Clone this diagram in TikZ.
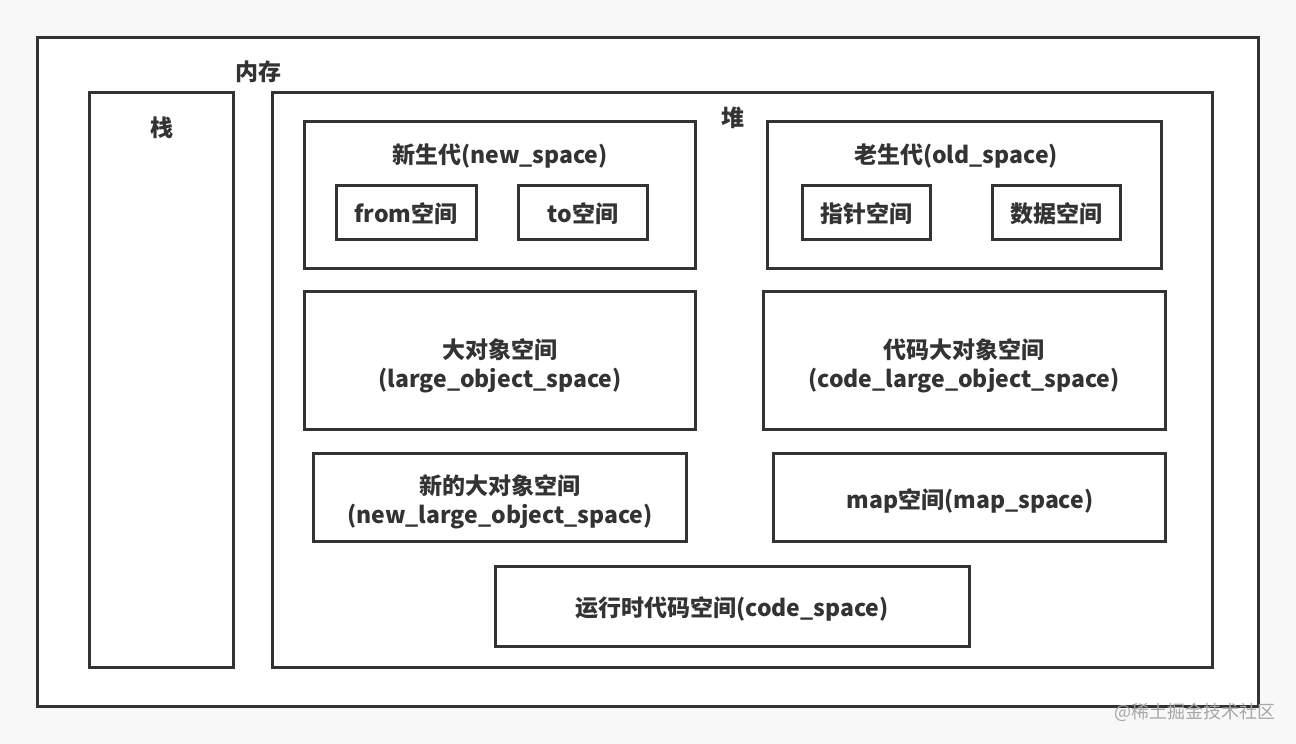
\documentclass[tikz,border=0pt]{standalone}
\usepackage{fontspec}
\setmainfont{Noto Sans CJK SC}
\definecolor{ln}{HTML}{333333}
\definecolor{bg}{HTML}{F8F8F8}
\begin{document}
\begin{tikzpicture}[x=1pt,y=-1pt,
  box/.style={draw=ln,line width=3pt,fill=white},
  lbl/.style={text=ln,font=\fontsize{23}{29}\selectfont\bfseries,inner sep=0pt,align=center}]
\fill[bg] (0,0) rectangle (1296,744);
\useasboundingbox (0,0) rectangle (1296,744);
\draw[box] (37,37) rectangle (1258,706);
\node[lbl] (mem) at (258,72) {内存};
% stack
\draw[box] (89,92) rectangle (233,667);
\node[lbl] (stack) at (162,128) {栈};
% heap
\draw[box] (272,92) rectangle (1212,667);
\node[lbl] (heap) at (733,118) {堆};
% new space
\draw[box] (304,121) rectangle (695,268);
\node[lbl] (newsp) at (500,156) {新生代(new\_space)};
\draw[box] (336,185) rectangle (476,239);
\node[lbl] (from) at (406,214) {from空间};
\draw[box] (518,185) rectangle (647,239);
\node[lbl] (to) at (583,214) {to空间};
% old space
\draw[box] (767,121) rectangle (1161,268);
\node[lbl] (oldsp) at (956,156) {老生代(old\_space)};
\draw[box] (802,185) rectangle (930,239);
\node[lbl] (ptr) at (866,214) {指针空间};
\draw[box] (992,185) rectangle (1120,239);
\node[lbl] (data) at (1056,214) {数据空间};
% large object
\draw[box] (304,291) rectangle (695,429);
\node[lbl] (lo) at (500,366) {大对象空间\\(large\_object\_space)};
\draw[box] (763,291) rectangle (1165,429);
\node[lbl] (clo) at (964,366) {代码大对象空间\\(code\_large\_object\_space)};
% new large object
\draw[box] (313,453) rectangle (686,541);
\node[lbl] (nlo) at (500,502) {新的大对象空间\\(new\_large\_object\_space)};
\draw[box] (773,453) rectangle (1165,541);
\node[lbl] (map) at (970,501) {map空间(map\_space)};
% code space
\draw[box] (495,566) rectangle (969,646);
\node[lbl] (code) at (732,609) {运行时代码空间(code\_space)};
% watermark
\node[text=black!35,font=\fontsize{18}{20}\selectfont,inner sep=0pt] (wm) at (1195,712) {@稀土掘金技术社区};
\end{tikzpicture}
\end{document}
